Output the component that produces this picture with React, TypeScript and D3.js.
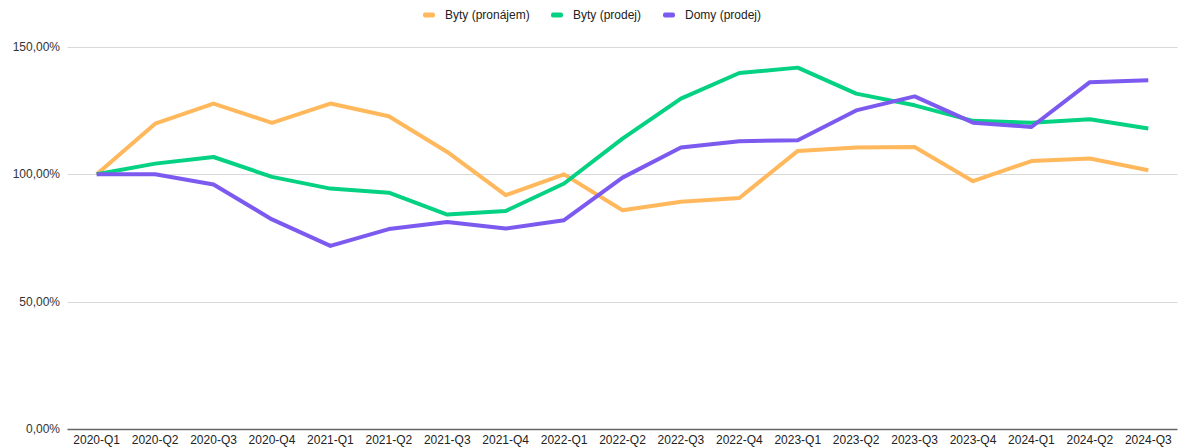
import { useEffect, useRef } from "react";
import * as d3 from "d3";

const width = 1178;
const height = 447;
const marginTop = 47;
const marginBottom = 18;
const marginLeft = 67.5;
const marginRight = 0.5;

const quarters = [
  "2020-Q1", "2020-Q2", "2020-Q3", "2020-Q4",
  "2021-Q1", "2021-Q2", "2021-Q3", "2021-Q4",
  "2022-Q1", "2022-Q2", "2022-Q3", "2022-Q4",
  "2023-Q1", "2023-Q2", "2023-Q3", "2023-Q4",
  "2024-Q1", "2024-Q2", "2024-Q3",
];

const bytyPronajem = [
  100, 119.9, 127.8, 120.2, 127.8, 122.8, 108.8, 91.8, 100.0, 85.9,
  89.2, 90.7, 109.2, 110.5, 110.7, 97.3, 105.2, 106.2, 101.6,
];
const bytyProdej = [
  100, 104.2, 106.8, 99.0, 94.4, 92.8, 84.2, 85.6, 96.4, 114.0,
  129.7, 139.8, 141.9, 131.7, 127.1, 121.0, 120.3, 121.6, 118.0,
];
const domyProdej = [
  100, 100.0, 96.0, 82.3, 71.9, 78.5, 81.3, 78.7, 82.0, 98.7,
  110.5, 113.0, 113.4, 125.1, 130.6, 120.3, 118.6, 136.2, 136.9,
];

const yTicks = [0, 50, 100, 150];

const series = [
  { name: "Byty (pronájem)", values: bytyPronajem, color: "#ffb85c" },
  { name: "Byty (prodej)", values: bytyProdej, color: "#05d182" },
  { name: "Domy (prodej)", values: domyProdej, color: "#7c5af0" },
];

// legend item x positions (swatch start)
const legendX = [423, 551, 663];

const fmt = (v: number) => v.toFixed(2).replace(".", ",") + "%";

export default function App() {
  const ref = useRef<SVGSVGElement>(null);

  useEffect(() => {
    const svg = d3.select(ref.current);
    svg.selectAll("*").remove();
    const font = "Liberation Sans, Arial, sans-serif";

    const x = d3
      .scaleBand()
      .domain(quarters)
      .range([marginLeft, width - marginRight]);
    const y = d3
      .scaleLinear()
      .domain([0, 150])
      .range([height - marginBottom, marginTop]);
    const cx = (q: string) => (x(q) ?? 0) + x.bandwidth() / 2;

    // gridlines
    svg
      .append("g")
      .selectAll("line")
      .data(yTicks.filter((t) => t > 0))
      .join("line")
      .attr("x1", marginLeft)
      .attr("x2", width - marginRight)
      .attr("y1", (d) => Math.round(y(d)) + 0.5)
      .attr("y2", (d) => Math.round(y(d)) + 0.5)
      .attr("stroke", "#d9d9d9")
      .attr("stroke-width", 1);

    // y labels
    svg
      .append("g")
      .selectAll("text")
      .data(yTicks)
      .join("text")
      .attr("x", 60)
      .attr("y", (d) => y(d) + 4)
      .attr("text-anchor", "end")
      .attr("font-family", font)
      .attr("font-size", 12)
      .attr("fill", "#333")
      .text((d) => fmt(d));

    // baseline
    svg
      .append("line")
      .attr("x1", marginLeft)
      .attr("x2", width - marginRight)
      .attr("y1", Math.round(y(0)) + 0.5)
      .attr("y2", Math.round(y(0)) + 0.5)
      .attr("stroke", "#666")
      .attr("stroke-width", 1.3);

    // x labels
    svg
      .append("g")
      .selectAll("text")
      .data(quarters)
      .join("text")
      .attr("x", (d) => cx(d))
      .attr("y", height - 3)
      .attr("text-anchor", "middle")
      .attr("font-family", font)
      .attr("font-size", 12)
      .attr("fill", "#222")
      .text((d) => d);

    // lines
    const line = d3
      .line<number>()
      .x((_, i) => cx(quarters[i]))
      .y((d) => y(d));

    svg
      .append("g")
      .selectAll("path")
      .data(series)
      .join("path")
      .attr("d", (s) => line(s.values))
      .attr("fill", "none")
      .attr("stroke", (s) => s.color)
      .attr("stroke-width", 4)
      .attr("stroke-linejoin", "round");

    // legend
    const lg = svg
      .append("g")
      .selectAll("g")
      .data(series)
      .join("g")
      .attr("transform", (_, i) => `translate(${legendX[i]},15)`);
    lg.append("rect")
      .attr("x", 0)
      .attr("y", -2.5)
      .attr("width", 12)
      .attr("height", 5)
      .attr("rx", 2)
      .attr("fill", (s) => s.color);
    lg.append("text")
      .attr("x", 22)
      .attr("y", 4)
      .attr("font-family", font)
      .attr("font-size", 12)
      .attr("fill", "#222")
      .text((s) => s.name);
  }, []);

  return (
    <svg
      ref={ref}
      width={width}
      height={height}
      style={{ position: "absolute", left: 0, top: 0, background: "#fff" }}
    />
  );
}
